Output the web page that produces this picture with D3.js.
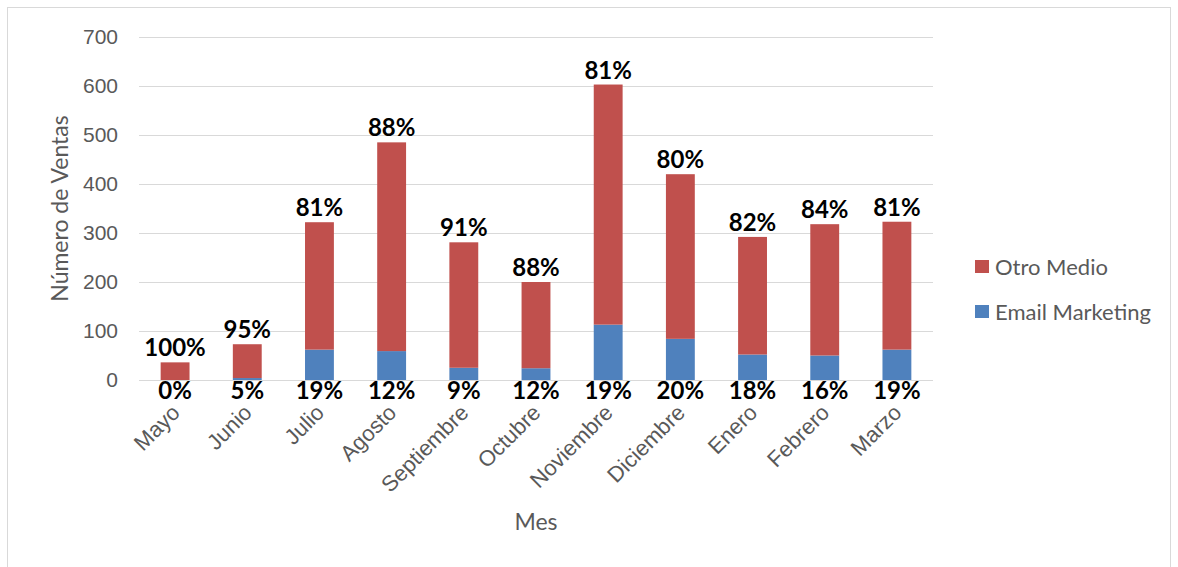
<!DOCTYPE html>
<html>
<head>
<meta charset="utf-8">
<script src="https://cdn.jsdelivr.net/npm/d3@7"></script>
<style>
  body { margin: 0; background: #fff; }
  svg { font-family: Lato, "Open Sans", sans-serif; }
</style>
</head>
<body>
<div id="chart"></div>
<script>
// datos
const meses = ["Mayo", "Junio", "Julio", "Agosto", "Septiembre", "Octubre", "Noviembre", "Diciembre", "Enero", "Febrero", "Marzo"];
const emailMarketing = [0, 4, 62, 59, 25, 24, 113, 84, 52, 50, 62];
const otroMedio = [36, 69, 260, 426, 256, 176, 490, 336, 240, 268, 261];
const pctOtro = ["100%", "95%", "81%", "88%", "91%", "88%", "81%", "80%", "82%", "84%", "81%"];
const pctEmail = ["0%", "5%", "19%", "12%", "9%", "12%", "19%", "20%", "18%", "16%", "19%"];
const yTicks = [0, 100, 200, 300, 400, 500, 600, 700];

const W = 1178, H = 567;
const margin = { left: 139, right: 245, top: 37, bottom: 187 };

const svg = d3.select("#chart").append("svg")
    .attr("width", W)
    .attr("height", H);

// marco del grafico
svg.append("rect")
    .attr("x", 7.5).attr("y", 7.5)
    .attr("width", 1163).attr("height", 600)
    .attr("fill", "none")
    .attr("stroke", "#d9d9d9");

const x = d3.scaleBand()
    .domain(meses)
    .range([margin.left, W - margin.right])
    .paddingInner(0.6)
    .paddingOuter(0.3);

const y = d3.scaleLinear()
    .domain([0, 700])
    .range([H - margin.bottom, margin.top]);

// lineas de cuadricula
svg.append("g")
    .selectAll("line")
    .data(yTicks)
    .join("line")
    .attr("x1", margin.left)
    .attr("x2", W - margin.right)
    .attr("y1", d => Math.round(y(d)) + 0.5)
    .attr("y2", d => Math.round(y(d)) + 0.5)
    .attr("stroke", "#d9d9d9")
    .attr("stroke-width", 1);

// eje Y
const yAxis = svg.append("g")
    .attr("transform", `translate(${margin.left},0)`)
    .call(d3.axisLeft(y).tickValues(yTicks).tickSize(0).tickPadding(21));
yAxis.select(".domain").remove();
yAxis.selectAll("text")
    .style("font-size", "21px")
    .style("fill", "#595959");

// eje X
const xAxis = svg.append("g")
    .attr("transform", `translate(0,${y(0)})`)
    .call(d3.axisBottom(x).tickSize(0));
xAxis.select(".domain").remove();
xAxis.selectAll("text")
    .style("font-size", "22px")
    .style("fill", "#595959")
    .attr("text-anchor", "end")
    .attr("y", 0)
    .attr("dy", null)
    .attr("transform", "translate(6,34) rotate(-45)");

// barras apiladas
const stackData = meses.map((m, i) => ({ mes: m, email: emailMarketing[i], otro: otroMedio[i] }));
const series = d3.stack().keys(["email", "otro"])(stackData);
const colores = { email: "#4f81bd", otro: "#c0504d" };

svg.append("g")
    .selectAll("g")
    .data(series)
    .join("g")
    .attr("fill", d => colores[d.key])
    .selectAll("rect")
    .data(d => d)
    .join("rect")
    .attr("x", d => x(d.data.mes))
    .attr("y", d => y(d[1]))
    .attr("width", x.bandwidth())
    .attr("height", d => y(d[0]) - y(d[1]));

// etiquetas de porcentaje
svg.append("g")
    .selectAll("text")
    .data(stackData)
    .join("text")
    .attr("x", d => x(d.mes) + x.bandwidth() / 2)
    .attr("y", d => y(d.email + d.otro) - 6)
    .attr("text-anchor", "middle")
    .style("font-size", "24px")
    .style("font-weight", "bold")
    .style("fill", "#000")
    .text((d, i) => pctOtro[i]);

svg.append("g")
    .selectAll("text")
    .data(stackData)
    .join("text")
    .attr("x", d => x(d.mes) + x.bandwidth() / 2)
    .attr("y", y(0) + 19)
    .attr("text-anchor", "middle")
    .style("font-size", "24px")
    .style("font-weight", "bold")
    .style("fill", "#000")
    .text((d, i) => pctEmail[i]);

// titulos de ejes
svg.append("text")
    .attr("transform", `translate(68,${(y(0) + y(700)) / 2}) rotate(-90)`)
    .attr("text-anchor", "middle")
    .style("font-size", "23px")
    .style("fill", "#595959")
    .text("Número de Ventas");

svg.append("text")
    .attr("x", (margin.left + W - margin.right) / 2)
    .attr("y", 530)
    .attr("text-anchor", "middle")
    .style("font-size", "23px")
    .style("fill", "#595959")
    .text("Mes");

// leyenda
const leyenda = [
    { label: "Otro Medio", color: colores.otro },
    { label: "Email Marketing", color: colores.email }
];
const lg = svg.append("g")
    .selectAll("g")
    .data(leyenda)
    .join("g")
    .attr("transform", (d, i) => `translate(975,${260 + i * 45})`);
lg.append("rect")
    .attr("width", 14).attr("height", 13)
    .attr("fill", d => d.color);
lg.append("text")
    .attr("x", 20)
    .attr("y", 15)
    .style("font-size", "22px")
    .style("fill", "#595959")
    .text(d => d.label);
</script>
</body>
</html>
